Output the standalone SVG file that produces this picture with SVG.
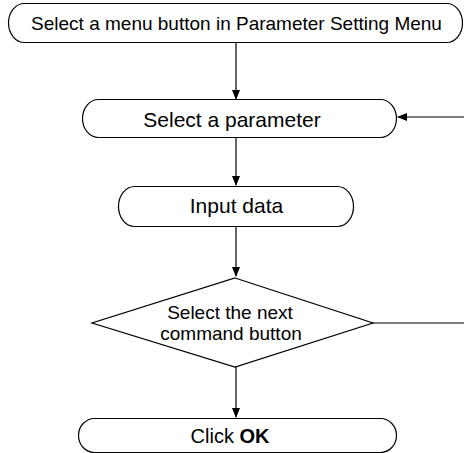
<svg xmlns="http://www.w3.org/2000/svg" width="464" height="453" viewBox="0 0 464 453">
<defs>
<style>
.n{fill:#fff;stroke:#000;stroke-width:1.2}
.t{font-family:"Liberation Sans",Arial,sans-serif;font-size:21px;fill:#000;text-anchor:middle}
.c{fill:none;stroke:#000;stroke-width:1.2}
</style>
<marker id="a" markerWidth="10" markerHeight="10" refX="9" refY="5" orient="auto" markerUnits="userSpaceOnUse">
<path d="M0,1 L10,5 L0,9 Z" fill="#000"/>
</marker>
</defs>
<rect width="464" height="453" fill="#fff"/>
<g id="connectors">
<line class="c" x1="236" y1="43" x2="236" y2="99" marker-end="url(#a)"/>
<line class="c" x1="236" y1="138" x2="236" y2="185" marker-end="url(#a)"/>
<line class="c" x1="236" y1="227" x2="236" y2="276" marker-end="url(#a)"/>
<line class="c" x1="236" y1="367" x2="236" y2="417" marker-end="url(#a)"/>
<line class="c" x1="373" y1="323" x2="464" y2="323"/>
<line class="c" x1="464" y1="117" x2="398" y2="117" marker-end="url(#a)"/>
</g>
<g id="n1">
<rect class="n" x="8.5" y="3.5" width="454" height="39" rx="16" ry="19.5"/>
<text class="t" x="236.5" y="30" style="font-size:19px">Select a menu button in Parameter Setting Menu</text>
</g>
<g id="n2">
<rect class="n" x="82.5" y="99.5" width="314" height="38" rx="16" ry="19"/>
<text class="t" x="232" y="127">Select a parameter</text>
</g>
<g id="n3">
<rect class="n" x="118.5" y="186.5" width="235" height="40" rx="16" ry="20"/>
<text class="t" x="236.5" y="213">Input data</text>
</g>
<g id="n4">
<polygon class="n" points="235,278 373,323 235,367 92,323"/>
<text class="t" style="font-size:19px"><tspan x="230" y="318.5">Select the next</tspan><tspan x="231" y="340">command button</tspan></text>
</g>
<g id="n5">
<rect class="n" x="78.5" y="418.5" width="318" height="34" rx="16" ry="17"/>
<text class="t" x="230" y="443" style="font-size:20px">Click <tspan font-weight="bold">OK</tspan></text>
</g>
</svg>
